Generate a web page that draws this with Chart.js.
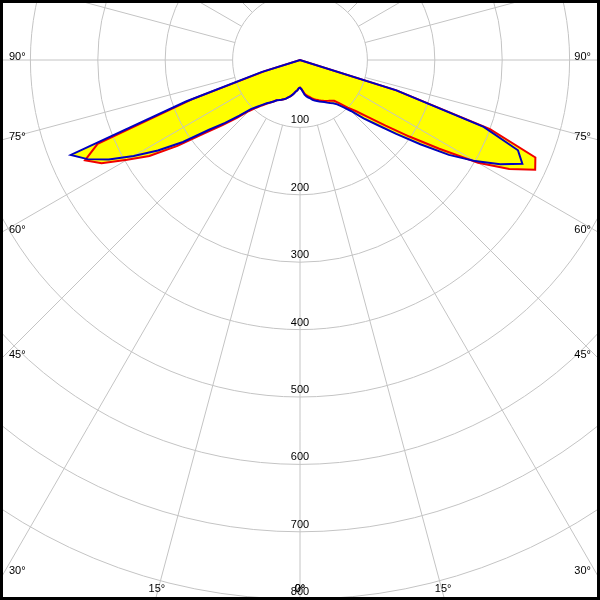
<!DOCTYPE html>
<html>
<head>
<meta charset="utf-8">
<script src="https://cdn.jsdelivr.net/npm/chart.js@4.4.1/dist/chart.umd.min.js"></script>
<style>
  html, body { margin: 0; padding: 0; background: #fff; }
  #view { position: relative; width: 600px; height: 600px; overflow: hidden; background: #fff; }
  #c { position: absolute; left: 0; top: 0; background: #fff; }
  #frame { position: absolute; left: 0; top: 0; width: 600px; height: 600px; box-sizing: border-box; border: 3px solid #000; pointer-events: none; }
</style>
</head>
<body>
<div id="view">
  <canvas id="c" width="1348" height="1348"></canvas>
  <div id="frame"></div>
</div>
<script>
//Gamma angles of each half plane, 0 = straight down, 180 = straight up
var gammaHalf = [];
for (var g = 0; g <= 180; g += 2.5) {
  gammaHalf.push(g);
}

//Intensity (cd/klm), gamma 0 .. 180 in 2.5 steps
var blueLeft = [41, 42, 45, 47, 50, 53, 56, 58, 61, 63, 65, 67, 69, 73, 77, 81, 87, 94, 103, 122,
  145, 170, 212, 250, 285, 320, 348, 368, 180, 60, 0, 0, 0, 0, 0, 0, 0, 0, 0, 0,
  0, 0, 0, 0, 0, 0, 0, 0, 0, 0, 0, 0, 0, 0, 0, 0, 0, 0, 0, 0,
  0, 0, 0, 0, 0, 0, 0, 0, 0, 0, 0, 0, 0];
var blueRight = [41, 43, 47, 52, 55, 57, 59, 62, 64, 66, 68, 70, 72, 75, 78, 81, 86, 95, 107, 128,
  150, 180, 218, 262, 300, 335, 364, 350, 290, 150, 0, 0, 0, 0, 0, 0, 0, 0, 0, 0,
  0, 0, 0, 0, 0, 0, 0, 0, 0, 0, 0, 0, 0, 0, 0, 0, 0, 0, 0, 0,
  0, 0, 0, 0, 0, 0, 0, 0, 0, 0, 0, 0, 0];
var redLeft = [41, 42, 45, 47, 50, 53, 56, 58, 61, 63, 65, 67, 69, 73, 77, 82, 88, 96, 107, 127,
  150, 178, 222, 265, 296, 332, 352, 325, 170, 55, 0, 0, 0, 0, 0, 0, 0, 0, 0, 0,
  0, 0, 0, 0, 0, 0, 0, 0, 0, 0, 0, 0, 0, 0, 0, 0, 0, 0, 0, 0,
  0, 0, 0, 0, 0, 0, 0, 0, 0, 0, 0, 0, 0];
var redRight = [41, 43, 46, 50, 53, 55, 57, 60, 62, 64, 66, 68, 70, 72, 74, 76, 79, 88, 100, 112,
  132, 160, 198, 245, 305, 350, 385, 378, 300, 150, 0, 0, 0, 0, 0, 0, 0, 0, 0, 0,
  0, 0, 0, 0, 0, 0, 0, 0, 0, 0, 0, 0, 0, 0, 0, 0, 0, 0, 0, 0,
  0, 0, 0, 0, 0, 0, 0, 0, 0, 0, 0, 0, 0];

//Tick labels
var ringTicks = [100, 200, 300, 400, 500, 600, 700, 800];
var degreeTicks = [0, 15, 30, 45, 60, 75, 90];

//Layout: where the pole sits on the page
var poleX = 300;
var poleY = 60;
var gridColor = '#c4c4c4';
var labelFont = '11px "Liberation Sans", Arial, sans-serif';

//Full circle, going clockwise from straight down: left half then right half
var gammaAll = [];
function fullCircle(left, right) {
  var out = [];
  for (var k = 0; k < left.length; k++) out.push(left[k]);
  for (var k = right.length - 2; k > 0; k--) out.push(right[k]);
  return out;
}
for (var k = 0; k < gammaHalf.length; k++) gammaAll.push(gammaHalf[k]);
for (var k = gammaHalf.length - 2; k > 0; k--) gammaAll.push(360 - gammaHalf[k]);

//Spokes, ring values and angle labels
var polarDecor = {
  id: 'polarDecor',
  afterLayout: function(chart) {
    var r = chart.scales.r;
    chart.canvas.style.left = (poleX - r.xCenter) + 'px';
    chart.canvas.style.top = (poleY - r.yCenter) + 'px';
  },
  beforeDatasetsDraw: function(chart) {
    var ctx = chart.ctx;
    var r = chart.scales.r;
    var offX = r.xCenter - poleX;
    var offY = r.yCenter - poleY;
    ctx.save();
    ctx.strokeStyle = gridColor;
    ctx.lineWidth = 1;
    for (var k = 0; k < gammaAll.length; k++) {
      if (gammaAll[k] % 15 !== 0) continue;
      var a = r.getPointPositionForValue(k, 100);
      var b = r.getPointPosition(k, 2000);
      ctx.beginPath();
      ctx.moveTo(a.x, a.y);
      ctx.lineTo(b.x, b.y);
      ctx.stroke();
    }

    ctx.fillStyle = '#000';
    ctx.font = labelFont;
    ctx.textAlign = 'center';
    ctx.textBaseline = 'middle';
    ringTicks.forEach(function(v) {
      var p = r.getPointPositionForValue(0, v);
      ctx.fillText(String(v), p.x, p.y - 7);
    });

    //angle labels sit where each spoke leaves the picture
    degreeTicks.forEach(function(deg) {
      var rad = deg * Math.PI / 180;
      [-1, 1].forEach(function(side) {
        var s = Math.sin(rad), c = Math.cos(rad);
        var edge = side < 0 ? 9 : 591;
        var t = s > 0 ? Math.abs(edge - poleX) / s : Infinity;
        var y = poleY + t * c;
        if (y < 585) {
          ctx.textAlign = side < 0 ? 'left' : 'right';
          ctx.textBaseline = 'top';
          var top = y - 10 * (deg - 30) / 60 + 1;
          ctx.fillText(deg + '\u00b0', edge + offX, top + offY);
        } else {
          var tb = (594 - poleY) / c;
          var x = poleX + side * tb * s;
          ctx.textAlign = 'center';
          ctx.textBaseline = 'bottom';
          ctx.fillText(deg + '\u00b0', x + offX, 594 + offY);
        }
      });
    });
    ctx.restore();
  }
};

var polarChart = new Chart(document.getElementById('c'), {
  type: 'radar',
  data: {
    labels: gammaAll,
    datasets: [{
      label: 'C0 - C180',
      data: fullCircle(blueLeft, blueRight),
      borderColor: '#0000c0',
      backgroundColor: '#ffff00',
      borderWidth: 2,
      fill: true,
      pointRadius: 0,
      tension: 0
    }, {
      label: 'C90 - C270',
      data: fullCircle(redLeft, redRight),
      borderColor: '#f00000',
      backgroundColor: '#ffff00',
      borderWidth: 2,
      fill: true,
      pointRadius: 0,
      tension: 0
    }]
  },
  options: {
    responsive: false,
    animation: false,
    events: [],
    layout: { padding: 0 },
    plugins: {
      legend: { display: false },
      tooltip: { enabled: false },
      filler: { drawTime: 'beforeDraw' }
    },
    scales: {
      r: {
        startAngle: 180,
        min: 0,
        max: 1000,
        ticks: { display: false, stepSize: 100 },
        grid: {
          circular: true,
          lineWidth: 1,
          color: function(ctx) {
            return (ctx.tick && ctx.tick.value > 0 && ctx.tick.value <= 800) ? gridColor : 'rgba(0,0,0,0)';
          }
        },
        angleLines: { display: false },
        pointLabels: { display: false }
      }
    }
  },
  plugins: [polarDecor]
});
</script>
</body>
</html>
